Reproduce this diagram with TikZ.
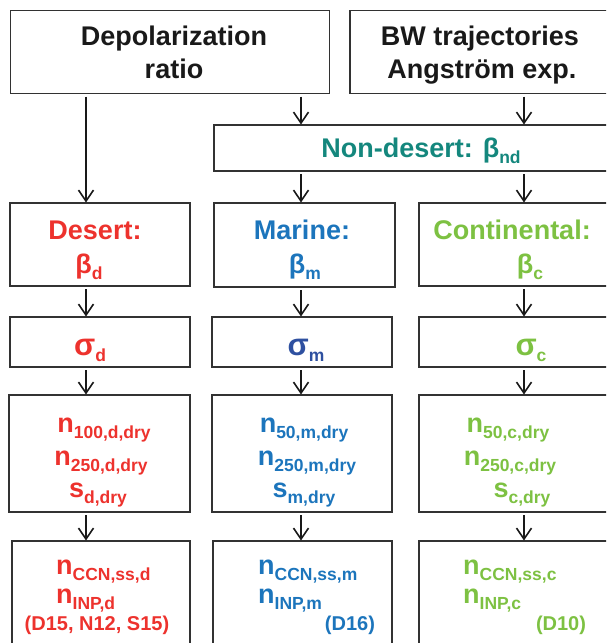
\documentclass[tikz,border=0pt]{standalone}
\usepackage{fontspec}
\setmainfont{Liberation Sans}
\usetikzlibrary{arrows.meta}

\definecolor{desred}{RGB}{237,50,45}
\definecolor{marblue}{RGB}{28,117,188}
\definecolor{sigblue}{RGB}{46,80,160}
\definecolor{congreen}{RGB}{125,193,66}
\definecolor{ndteal}{RGB}{20,135,125}
\definecolor{boxline}{RGB}{50,50,50}

\newcommand{\low}[1]{\raisebox{-6.5pt}{\fontsize{17.5}{17.5}\selectfont #1}}
\newcommand{\sig}{{\fontsize{31}{31}\selectfont σ}}

\tikzset{
  box/.style={draw=boxline,line width=1.2pt,rectangle,inner sep=0pt,outer sep=0pt,anchor=north west},
  lab/.style={font=\fontsize{27}{30}\selectfont\bfseries,inner sep=0pt,anchor=base},
  small/.style={font=\fontsize{20}{22}\selectfont\bfseries,inner sep=0pt,anchor=base},
  arr/.style={-{Straight Barb[length=11pt,width=15pt]},line width=1.6pt,color=black!90,shorten <=3pt,shorten >=0.5pt}
}

\begin{document}
\begin{tikzpicture}[x=1pt,y=-1pt]
\clip (0,0) rectangle (606,643);

% boxes
\node[box,minimum width=319pt,minimum height=83pt] (depol) at (10.7,10.7) {};
\node[box,minimum width=260pt,minimum height=83pt] (bw) at (350,10.7) {};
\node[box,minimum width=412pt,minimum height=46pt] (nondes) at (214,125) {};

\node[box,minimum width=180pt,minimum height=83pt] (desert) at (10,203) {};
\node[box,minimum width=181pt,minimum height=84pt] (marine) at (214,203) {};
\node[box,minimum width=190pt,minimum height=83pt] (cont) at (419,203) {};

\node[box,minimum width=180pt,minimum height=50pt] (sigd) at (10,317) {};
\node[box,minimum width=180pt,minimum height=50pt] (sigm) at (212,317) {};
\node[box,minimum width=190pt,minimum height=50pt] (sigc) at (419,317) {};

\node[box,minimum width=181pt,minimum height=117pt] (dryd) at (9,395) {};
\node[box,minimum width=180pt,minimum height=117pt] (drym) at (212,395) {};
\node[box,minimum width=190pt,minimum height=117pt] (dryc) at (419,395) {};

\node[box,minimum width=178pt,minimum height=120pt] (ccnd) at (12,541) {};
\node[box,minimum width=179pt,minimum height=120pt] (ccnm) at (213,541) {};
\node[box,minimum width=190pt,minimum height=120pt] (ccnc) at (419,541) {};

% columns of the arrows
\coordinate (cl) at (86,0);
\coordinate (cm) at (301,0);
\coordinate (cr) at (524,0);

\draw[arr] (depol.south -| cl) -- (desert.north -| cl);
\draw[arr] (depol.south -| cm) -- (nondes.north -| cm);
\draw[arr] (bw.south -| cr) -- (nondes.north -| cr);
\draw[arr] (nondes.south -| cm) -- (marine.north -| cm);
\draw[arr] (nondes.south -| cr) -- (cont.north -| cr);

\draw[arr] (desert.south -| cl) -- (sigd.north -| cl);
\draw[arr] (marine.south -| cm) -- (sigm.north -| cm);
\draw[arr] (cont.south -| cr) -- (sigc.north -| cr);
\draw[arr] (sigd.south -| cl) -- (dryd.north -| cl);
\draw[arr] (sigm.south -| cm) -- (drym.north -| cm);
\draw[arr] (sigc.south -| cr) -- (dryc.north -| cr);
\draw[arr] (dryd.south -| cl) -- (ccnd.north -| cl);
\draw[arr] (drym.south -| cm) -- (ccnm.north -| cm);
\draw[arr] (dryc.south -| cr) -- (ccnc.north -| cr);

% texts
\node[lab,black!90] (depola) at (174,45) {Depolarization};
\node[lab,black!90] (depolb) at (174,78) {ratio};
\node[lab,black!90] (bwa) at (480,45) {BW trajectories};
\node[lab,black!90] (bwb) at (482,78) {Angström exp.};
\node[lab,ndteal] (ndtext) at (421,157) {Non-desert: β\low{nd}};

\node[lab,desred] (desa) at (95,239) {Desert:};
\node[lab,desred] (desb) at (89,273) {β\low{d}};
\node[lab,marblue] (mara) at (302,239) {Marine:};
\node[lab,marblue] (marb) at (305,273) {β\low{m}};
\node[lab,congreen] (cona) at (512,239) {Continental:};
\node[lab,congreen] (conb) at (530,273) {β\low{c}};

\node[lab,desred] (sigdtext) at (90,355) {\sig\low{d}};
\node[lab,sigblue] (sigmtext) at (306,355) {\sig\low{m}};
\node[lab,congreen] (sigctext) at (531,355) {\sig\low{c}};

\node[lab,desred] (ndry1) at (104,432) {n\low{100,d,dry}};
\node[lab,desred] (ndry2) at (101,465) {n\low{250,d,dry}};
\node[lab,desred] (ndry3) at (98,497) {s\low{d,dry}};
\node[lab,marblue] (mdry1) at (304,432) {n\low{50,m,dry}};
\node[lab,marblue] (mdry2) at (307,465) {n\low{250,m,dry}};
\node[lab,marblue] (mdry3) at (304,497) {s\low{m,dry}};
\node[lab,congreen] (cdry1) at (508,432) {n\low{50,c,dry}};
\node[lab,congreen] (cdry2) at (510,465) {n\low{250,c,dry}};
\node[lab,congreen] (cdry3) at (522,497) {s\low{c,dry}};

\node[lab,desred,anchor=base west] (dccn) at (56,574) {n\low{CCN,ss,d}};
\node[lab,desred,anchor=base west] (dinp) at (56,603) {n\low{INP,d}};
\node[small,desred] (dref) at (97,630) {(D15, N12, S15)};
\node[lab,marblue,anchor=base west] (mccn) at (258,574) {n\low{CCN,ss,m}};
\node[lab,marblue,anchor=base west] (minp) at (258,603) {n\low{INP,m}};
\node[small,marblue] (mref) at (350,630) {(D16)};
\node[lab,congreen,anchor=base west] (cccn) at (463,574) {n\low{CCN,ss,c}};
\node[lab,congreen,anchor=base west] (cinp) at (463,603) {n\low{INP,c}};
\node[small,congreen] (cref) at (561,630) {(D10)};
\end{tikzpicture}
\end{document}
